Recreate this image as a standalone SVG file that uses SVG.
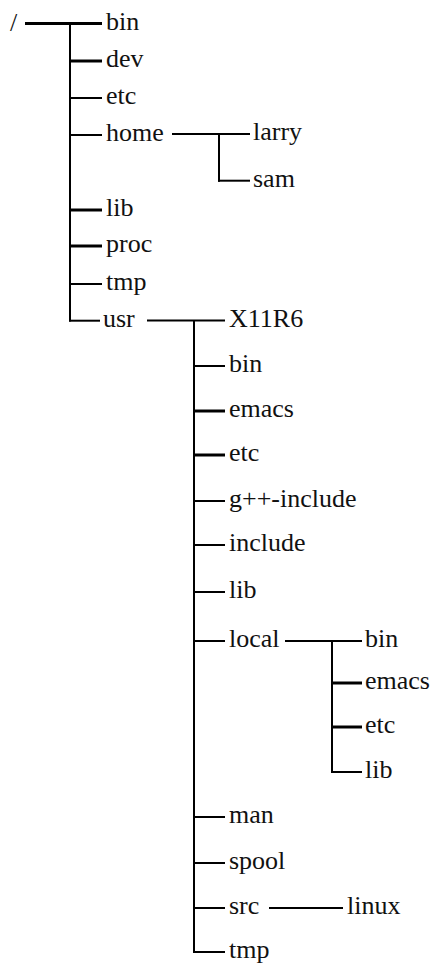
<svg xmlns="http://www.w3.org/2000/svg" width="439" height="963" viewBox="0 0 439 963">
<style>
.c line{stroke:#000;stroke-width:2;stroke-linecap:butt;}
.c line.t{stroke-width:3;}
</style>
<rect width="439" height="963" fill="#fff"/>
<g class="c" id="connectors">
  <line class="t" x1="25" y1="23.5" x2="102" y2="23.5"/>
  <line x1="70" y1="22.5" x2="70" y2="321.5"/>
  <line class="t" x1="70" y1="61" x2="102" y2="61"/>
  <line x1="70" y1="98" x2="102" y2="98"/>
  <line x1="70" y1="135" x2="102" y2="135"/>
  <line class="t" x1="70" y1="210" x2="102" y2="210"/>
  <line class="t" x1="70" y1="246" x2="102" y2="246"/>
  <line x1="70" y1="284" x2="102" y2="284"/>
  <line x1="69" y1="320.7" x2="100" y2="320.7"/>
  <line x1="172" y1="134" x2="250" y2="134"/>
  <line x1="219" y1="133" x2="219" y2="181.7"/>
  <line x1="218" y1="180.7" x2="250" y2="180.7"/>
  <line x1="147" y1="320.5" x2="225" y2="320.5"/>
  <line x1="194" y1="320" x2="194" y2="953"/>
  <line x1="194" y1="366" x2="225" y2="366"/>
  <line class="t" x1="194" y1="411" x2="225" y2="411"/>
  <line class="t" x1="194" y1="455" x2="225" y2="455"/>
  <line x1="194" y1="501" x2="225" y2="501"/>
  <line x1="194" y1="545" x2="225" y2="545"/>
  <line x1="194" y1="592" x2="225" y2="592"/>
  <line x1="194" y1="641" x2="225" y2="641"/>
  <line x1="285" y1="641" x2="362" y2="641"/>
  <line x1="332" y1="640" x2="332" y2="773"/>
  <line class="t" x1="332" y1="683" x2="362" y2="683"/>
  <line class="t" x1="332" y1="727" x2="362" y2="727"/>
  <line x1="331" y1="772" x2="362" y2="772"/>
  <line x1="194" y1="817" x2="225" y2="817"/>
  <line x1="194" y1="863" x2="225" y2="863"/>
  <line x1="194" y1="908" x2="225" y2="908"/>
  <line x1="269" y1="908" x2="343" y2="908"/>
  <line x1="193" y1="952" x2="225" y2="952"/>
</g>
<g id="nodes" fill="#111">
<g id="root"><text font-family="Liberation Serif" font-size="26" x="10" y="31">/</text></g>
<g id="bin"><text font-family="Liberation Serif" font-size="26" x="106" y="30">bin</text></g>
<g id="dev"><text font-family="Liberation Serif" font-size="26" x="106" y="67">dev</text></g>
<g id="etc"><text font-family="Liberation Serif" font-size="26" x="106" y="104">etc</text></g>
<g id="home"><text font-family="Liberation Serif" font-size="26" x="106" y="141">home</text></g>
<g id="larry"><text font-family="Liberation Serif" font-size="26" x="253" y="140">larry</text></g>
<g id="sam"><text font-family="Liberation Serif" font-size="26" x="253" y="187">sam</text></g>
<g id="lib"><text font-family="Liberation Serif" font-size="26" x="106" y="216">lib</text></g>
<g id="proc"><text font-family="Liberation Serif" font-size="26" x="106" y="252">proc</text></g>
<g id="tmp"><text font-family="Liberation Serif" font-size="26" x="106" y="290">tmp</text></g>
<g id="usr"><text font-family="Liberation Serif" font-size="26" x="103" y="327">usr</text></g>
<g id="usr-X11R6"><text font-family="Liberation Serif" font-size="26" x="229" y="327">X11R6</text></g>
<g id="usr-bin"><text font-family="Liberation Serif" font-size="26" x="229" y="372">bin</text></g>
<g id="usr-emacs"><text font-family="Liberation Serif" font-size="26" x="229" y="417">emacs</text></g>
<g id="usr-etc"><text font-family="Liberation Serif" font-size="26" x="229" y="461">etc</text></g>
<g id="usr-gpp-include"><text font-family="Liberation Serif" font-size="26" x="229" y="507">g++-include</text></g>
<g id="usr-include"><text font-family="Liberation Serif" font-size="26" x="229" y="551">include</text></g>
<g id="usr-lib"><text font-family="Liberation Serif" font-size="26" x="229" y="598">lib</text></g>
<g id="usr-local"><text font-family="Liberation Serif" font-size="26" x="229" y="647">local</text></g>
<g id="local-bin"><text font-family="Liberation Serif" font-size="26" x="365" y="647">bin</text></g>
<g id="local-emacs"><text font-family="Liberation Serif" font-size="26" x="365" y="689">emacs</text></g>
<g id="local-etc"><text font-family="Liberation Serif" font-size="26" x="365" y="733">etc</text></g>
<g id="local-lib"><text font-family="Liberation Serif" font-size="26" x="365" y="778">lib</text></g>
<g id="usr-man"><text font-family="Liberation Serif" font-size="26" x="229" y="823">man</text></g>
<g id="usr-spool"><text font-family="Liberation Serif" font-size="26" x="229" y="869">spool</text></g>
<g id="usr-src"><text font-family="Liberation Serif" font-size="26" x="229" y="914">src</text></g>
<g id="src-linux"><text font-family="Liberation Serif" font-size="26" x="347" y="914">linux</text></g>
<g id="usr-tmp"><text font-family="Liberation Serif" font-size="26" x="229" y="958">tmp</text></g>
</g>
</svg>
